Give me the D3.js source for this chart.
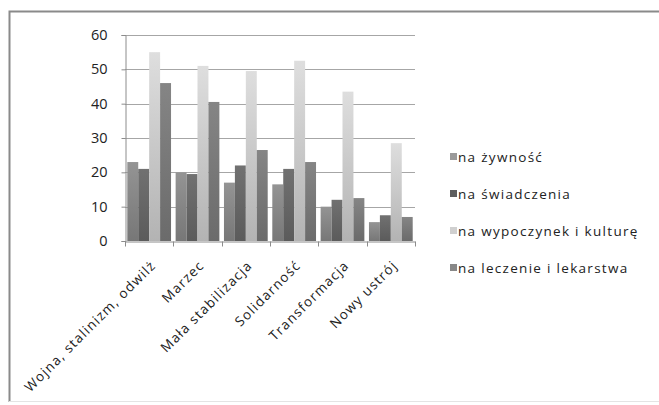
<!DOCTYPE html>
<html>
<head>
<meta charset="utf-8">
<script src="https://cdn.jsdelivr.net/npm/d3@7"></script>
<style>
  html, body { margin: 0; padding: 0; background: #fff; }
  svg { display: block; }
  text { font-family: "Open Sans", "Liberation Sans", sans-serif; fill: #222; }
</style>
</head>
<body>
<svg id="chart" width="659" height="405"></svg>
<script>
// Periods on the x axis
const categories = ["Wojna, stalinizm, odwilż", "Marzec", "Mała stabilizacja", "Solidarność", "Transformacja", "Nowy ustrój"];
// Series names (legend order)
const seriesNames = ["na żywność", "na świadczenia", "na wypoczynek i kulturę", "na leczenie i lekarstwa"];
// Values per series, one per period
const zywnosc    = [23, 20, 17, 16.5, 10, 5.5];
const swiadczenia = [21, 19.5, 22, 21, 12, 7.5];
const wypoczynek = [55, 51, 49.5, 52.5, 43.5, 28.5];
const leczenie   = [46, 40.5, 26.5, 23, 12.5, 7];
const yTicks = [0, 10, 20, 30, 40, 50, 60];

const seriesValues = [zywnosc, swiadczenia, wypoczynek, leczenie];
const colors = ["#8c8c8c", "#6b6b6b", "#d2d2d2", "#7e7e7e"];
const swatchColors = ["#9a9a9a", "#5e5e5e", "#d0d0d0", "#888888"];

const svg = d3.select("#chart");
const defs = svg.append("defs");
colors.forEach((c, i) => {
  const g = defs.append("linearGradient").attr("id", "grad" + i)
    .attr("x1", 0).attr("y1", 0).attr("x2", 0).attr("y2", 1);
  g.append("stop").attr("offset", "0%").attr("stop-color", d3.color(c).brighter(0.15));
  g.append("stop").attr("offset", "100%").attr("stop-color", d3.color(c).darker(0.45));
});

// Chart frame
svg.append("path")
  .attr("d", "M9.5,402 L9.5,11.5 L659,11.5")
  .attr("fill", "none").attr("stroke", "#8a8a8a").attr("stroke-width", 2);
svg.append("line").attr("x1", 9).attr("x2", 659).attr("y1", 401.5).attr("y2", 401.5)
  .attr("stroke", "#e4e4e4").attr("stroke-width", 1);

const plot = { left: 125, right: 415, top: 35, bottom: 241 };

const x0 = d3.scaleBand().domain(categories).range([plot.left, plot.right]).paddingInner(0).paddingOuter(0);
const x1 = d3.scaleBand().domain(d3.range(seriesNames.length)).range([0, x0.bandwidth()])
  .paddingInner(0).paddingOuter(0.21);
const y = d3.scaleLinear().domain([0, 60]).range([plot.bottom, plot.top]);

// Gridlines
svg.append("g").selectAll("line").data(yTicks.filter(d => d > 0)).join("line")
  .attr("x1", plot.left).attr("x2", plot.right)
  .attr("y1", d => Math.round(y(d)) + 0.5).attr("y2", d => Math.round(y(d)) + 0.5)
  .attr("stroke", "#a6a6a6").attr("stroke-width", 1);

// Bars
const groups = svg.append("g").selectAll("g").data(categories).join("g")
  .attr("transform", d => `translate(${x0(d)},0)`);
groups.selectAll("rect")
  .data((d, ci) => seriesValues.map((vals, si) => ({ si, v: vals[ci] })))
  .join("rect")
  .attr("x", d => x1(d.si))
  .attr("width", x1.bandwidth())
  .attr("y", d => y(d.v))
  .attr("height", d => y(0) - y(d.v))
  .attr("fill", d => `url(#grad${d.si})`);

// Y axis
const yAxis = d3.axisLeft(y).tickValues(yTicks).tickSize(4).tickPadding(14);
const gy = svg.append("g").attr("transform", `translate(${plot.left + 0.5},0)`).call(yAxis);
gy.select(".domain").attr("stroke", "#8c8c8c");
gy.selectAll(".tick line").attr("stroke", "#8c8c8c");
gy.selectAll(".tick text").attr("font-size", 14.5).attr("fill", "#222")
  .style("font-family", "'Open Sans', sans-serif");

// X axis
const xAxis = d3.axisBottom(x0).tickSize(0).tickFormat("");
const gx = svg.append("g").attr("transform", `translate(0,${plot.bottom + 0.5})`).call(xAxis);
gx.select(".domain").attr("stroke", "#8c8c8c");
// Tick marks on category boundaries
gx.append("g").selectAll("line")
  .data(categories.map(c => x0(c)).concat([plot.right]))
  .join("line")
  .attr("x1", d => Math.round(d) + 0.5).attr("x2", d => Math.round(d) + 0.5)
  .attr("y1", 0).attr("y2", 5).attr("stroke", "#8c8c8c");

// Rotated category labels
svg.append("g").selectAll("text").data(categories).join("text")
  .attr("transform", d => `translate(${x0(d) + x0.bandwidth() / 2 + 4},${plot.bottom + 22}) rotate(-45)`)
  .attr("text-anchor", "end")
  .attr("dy", "0.35em")
  .attr("font-size", 13.5)
  .attr("letter-spacing", 1.2)
  .text(d => d);

// Legend
const legend = svg.append("g").attr("transform", "translate(450,157)");
const items = legend.selectAll("g").data(seriesNames).join("g")
  .attr("transform", (d, i) => `translate(0,${i * 37})`);
items.append("rect").attr("x", 0).attr("y", -4).attr("width", 7).attr("height", 7)
  .attr("fill", (d, i) => swatchColors[i]);
items.append("text").attr("x", 8).attr("dy", "0.35em").attr("font-size", 13.5)
  .attr("letter-spacing", 1.3).text(d => d);
</script>
</body>
</html>
